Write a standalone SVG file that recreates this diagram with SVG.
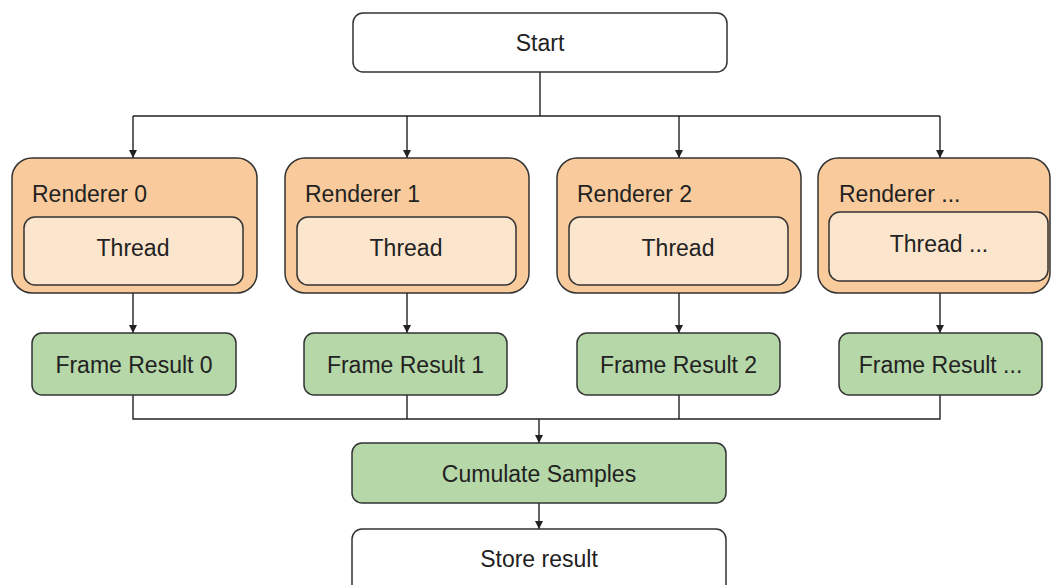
<svg xmlns="http://www.w3.org/2000/svg" width="1053" height="585" viewBox="0 0 1053 585">
<style>
text{font-family:"Liberation Sans",Arial,sans-serif;font-size:23px;fill:#222}
.c{text-anchor:middle}
.w{fill:#fff;stroke:#333;stroke-width:1.5}
.r{fill:#f9cb9c;stroke:#333;stroke-width:1.5}
.t{fill:#fce5cd;stroke:#333;stroke-width:1.5}
.g{fill:#b6d7a8;stroke:#333;stroke-width:1.5}
.l{fill:none;stroke:#222;stroke-width:1.4}
</style>
<defs>
<marker id="a" viewBox="0 0 10 10" refX="10" refY="5" markerWidth="8" markerHeight="8" markerUnits="userSpaceOnUse" orient="auto">
<path d="M0,0 L10,5 L0,10 z" fill="#222"/>
</marker>
</defs>
<g id="connectors">
<path class="l" d="M540,72 V116 M133,116 H940"/>
<path class="l" d="M133,116 V158" marker-end="url(#a)"/>
<path class="l" d="M407,116 V158" marker-end="url(#a)"/>
<path class="l" d="M679,116 V158" marker-end="url(#a)"/>
<path class="l" d="M940,116 V158" marker-end="url(#a)"/>
<path class="l" d="M133,293 V333" marker-end="url(#a)"/>
<path class="l" d="M407,293 V333" marker-end="url(#a)"/>
<path class="l" d="M679,293 V333" marker-end="url(#a)"/>
<path class="l" d="M940,293 V333" marker-end="url(#a)"/>
<path class="l" d="M133,395 V419 H940 V395 M407,395 V419 M679,395 V419"/>
<path class="l" d="M539,419 V443" marker-end="url(#a)"/>
<path class="l" d="M539,503 V529" marker-end="url(#a)"/>
</g>
<g id="start">
<rect class="w" x="353" y="13" width="374" height="59" rx="10"/>
<text class="c" x="540" y="51">Start</text>
</g>
<g id="renderer0">
<rect class="r" x="12" y="158" width="245" height="135" rx="20"/>
<text x="32" y="202">Renderer 0</text>
<rect class="t" x="24" y="217" width="219" height="68" rx="11"/>
<text class="c" x="133" y="256">Thread</text>
</g>
<g id="renderer1">
<rect class="r" x="285" y="158" width="244" height="135" rx="20"/>
<text x="305" y="202">Renderer 1</text>
<rect class="t" x="297" y="217" width="219" height="68" rx="11"/>
<text class="c" x="406" y="256">Thread</text>
</g>
<g id="renderer2">
<rect class="r" x="557" y="158" width="244" height="135" rx="20"/>
<text x="577" y="202">Renderer 2</text>
<rect class="t" x="569" y="217" width="219" height="68" rx="11"/>
<text class="c" x="678" y="256">Thread</text>
</g>
<g id="renderer3">
<rect class="r" x="818" y="158" width="232" height="135" rx="20"/>
<text x="839" y="202">Renderer ...</text>
<rect class="t" x="829" y="212" width="219" height="69" rx="11"/>
<text class="c" x="939" y="252">Thread ...</text>
</g>
<g id="frame0">
<rect class="g" x="32" y="333" width="204" height="62" rx="10"/>
<text class="c" x="134" y="373">Frame Result 0</text>
</g>
<g id="frame1">
<rect class="g" x="304" y="333" width="203" height="62" rx="10"/>
<text class="c" x="405.5" y="373">Frame Result 1</text>
</g>
<g id="frame2">
<rect class="g" x="577" y="333" width="203" height="62" rx="10"/>
<text class="c" x="678.5" y="373">Frame Result 2</text>
</g>
<g id="frame3">
<rect class="g" x="839" y="333" width="203" height="62" rx="10"/>
<text class="c" x="940.5" y="373">Frame Result ...</text>
</g>
<g id="cumulate">
<rect class="g" x="352" y="443" width="374" height="60" rx="10"/>
<text class="c" x="539" y="482">Cumulate Samples</text>
</g>
<g id="store">
<rect class="w" x="352" y="529" width="374" height="70" rx="10"/>
<text class="c" x="539" y="567">Store result</text>
</g>
</svg>
